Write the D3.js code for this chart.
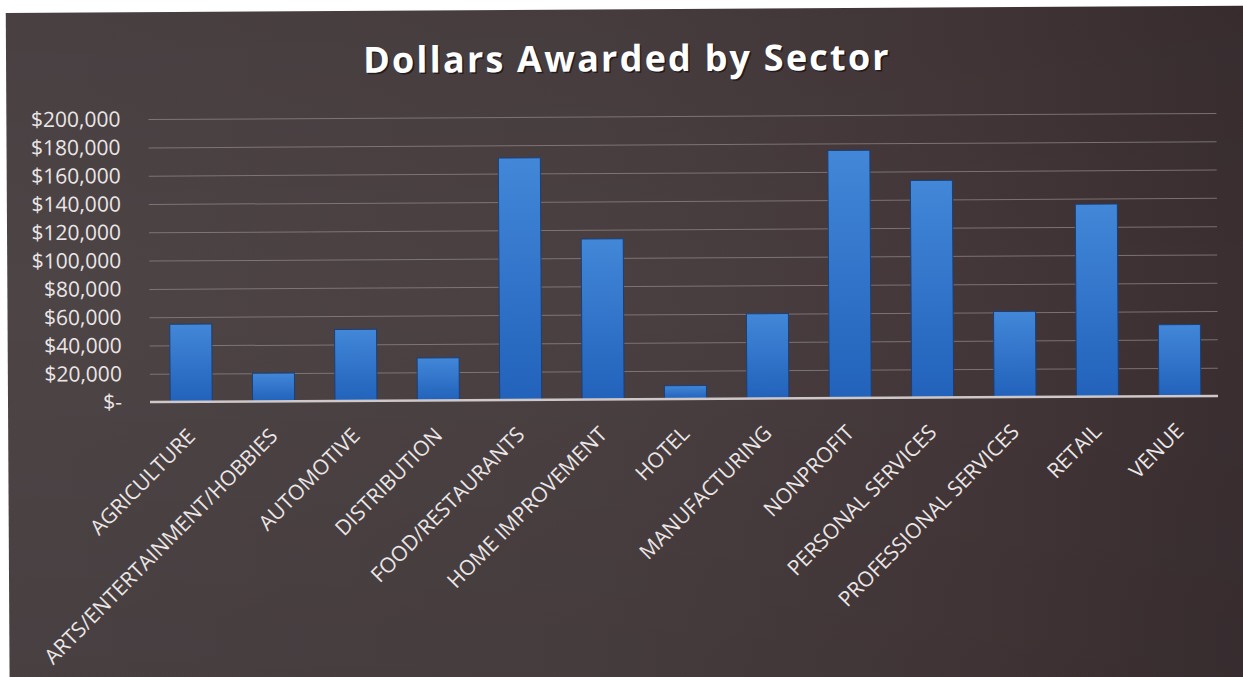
<!DOCTYPE html>
<html>
<head>
<meta charset="utf-8">
<script src="https://cdn.jsdelivr.net/npm/d3@7"></script>
<style>
  html, body { margin: 0; padding: 0; background: #ffffff; overflow: hidden; }
  svg { display: block; }
</style>
</head>
<body>
<svg id="chart" width="1243" height="677"></svg>
<script>
// ---- data ----
const categories = [
  "AGRICULTURE", "ARTS/ENTERTAINMENT/HOBBIES", "AUTOMOTIVE", "DISTRIBUTION",
  "FOOD/RESTAURANTS", "HOME IMPROVEMENT", "HOTEL", "MANUFACTURING",
  "NONPROFIT", "PERSONAL SERVICES", "PROFESSIONAL SERVICES", "RETAIL", "VENUE"
];
const dollarsAwarded = [
  55000, 20000, 50500, 30000, 171000, 113500, 9500, 60000,
  175000, 153500, 60500, 136000, 50500
];
const yTickValues = [0, 20000, 40000, 60000, 80000, 100000, 120000, 140000, 160000, 180000, 200000];
const yTickLabels = ["$-", "$20,000", "$40,000", "$60,000", "$80,000", "$100,000", "$120,000", "$140,000", "$160,000", "$180,000", "$200,000"];
const chartTitle = "Dollars Awarded by Sector";

// ---- layout ----
const W = 1243, H = 677;
const svg = d3.select("#chart");
const defs = svg.append("defs");

const bgGrad = defs.append("linearGradient").attr("id", "bgGrad")
  .attr("x1", "0").attr("y1", "0").attr("x2", "1").attr("y2", "0");
bgGrad.append("stop").attr("offset", "0%").attr("stop-color", "#4d4446");
bgGrad.append("stop").attr("offset", "45%").attr("stop-color", "#4a4042");
bgGrad.append("stop").attr("offset", "75%").attr("stop-color", "#443739");
bgGrad.append("stop").attr("offset", "100%").attr("stop-color", "#392d30");

const bgShade = defs.append("linearGradient").attr("id", "bgShade")
  .attr("x1", "0").attr("y1", "0").attr("x2", "0").attr("y2", "1");
bgShade.append("stop").attr("offset", "0%").attr("stop-color", "#000").attr("stop-opacity", 0.06);
bgShade.append("stop").attr("offset", "40%").attr("stop-color", "#000").attr("stop-opacity", 0);
bgShade.append("stop").attr("offset", "100%").attr("stop-color", "#000").attr("stop-opacity", 0.08);

const barGrad = defs.append("linearGradient").attr("id", "barGrad")
  .attr("x1", "0").attr("y1", "0").attr("x2", "0").attr("y2", "1");
barGrad.append("stop").attr("offset", "0%").attr("stop-color", "#4287d8");
barGrad.append("stop").attr("offset", "100%").attr("stop-color", "#2262bb");

// whole scanned sheet is slightly tilted
const g = svg.append("g").attr("transform", "rotate(-0.33, 685, 399)");

g.append("rect").attr("x", 8).attr("y", 9).attr("width", W + 40).attr("height", H + 40)
  .attr("fill", "url(#bgGrad)");
g.append("rect").attr("x", 8).attr("y", 9).attr("width", W + 40).attr("height", H + 40)
  .attr("fill", "url(#bgShade)");

const x = d3.scaleBand().domain(categories).range([150, 1221])
  .paddingInner(0.49).paddingOuter(0.245);
const y = d3.scaleLinear().domain([0, 200000]).range([399, 116]);

// gridlines
const grid = d3.axisLeft(y).tickValues(yTickValues.slice(1)).tickSize(-(1218 - 150)).tickFormat("");
g.append("g").attr("transform", "translate(150,0)").call(grid)
  .call(s => s.select(".domain").remove())
  .call(s => s.selectAll(".tick line").attr("stroke", "#8f8587").attr("stroke-width", 1).attr("stroke-opacity", 0.75));

// y axis labels
const yAxis = d3.axisLeft(y).tickValues(yTickValues).tickSize(0).tickPadding(0)
  .tickFormat((d, i) => yTickLabels[i]);
g.append("g").attr("transform", "translate(122,0)").call(yAxis)
  .call(s => s.select(".domain").remove())
  .call(s => s.selectAll("text")
    .attr("fill", "#ebe6e6")
    .style("font-family", "'Open Sans', sans-serif")
    .style("font-size", "21px"));

// bars
g.append("g").selectAll("rect").data(categories).join("rect")
  .attr("x", d => x(d))
  .attr("width", x.bandwidth())
  .attr("y", (d, i) => y(dollarsAwarded[i]))
  .attr("height", (d, i) => y(0) - y(dollarsAwarded[i]))
  .attr("fill", "url(#barGrad)")
  .attr("stroke", "#1b3f78")
  .attr("stroke-width", 1);

// baseline axis
const xAxis = d3.axisBottom(x).tickSize(0).tickFormat("");
g.append("g").attr("transform", `translate(0,${y(0)})`).call(xAxis)
  .call(s => s.select(".domain").attr("stroke", "#cfc8c8").attr("stroke-width", 2.5)
    .attr("d", "M150,0H1218"));

// x labels
g.append("g").selectAll("text").data(categories).join("text")
  .attr("transform", d => `translate(${x(d) + x.bandwidth() / 2 + 5},${y(0) + 36}) rotate(-45)`)
  .attr("text-anchor", "end")
  .attr("fill", "#ebe6e6")
  .style("font-family", "'Open Sans', sans-serif")
  .style("font-size", "21px")
  .text(d => d);

// title with shadow
const titleG = g.append("g");
const titleStyle = s => s.attr("text-anchor", "middle")
  .style("font-family", "'Open Sans', sans-serif").style("font-weight", "700")
  .style("font-size", "36px").style("letter-spacing", "2.2px");
titleG.append("text").attr("x", 630.5).attr("y", 72.5)
  .attr("fill", "#1a1416").attr("fill-opacity", 0.8).call(titleStyle).text(chartTitle);
titleG.append("text").attr("x", 629).attr("y", 71)
  .attr("fill", "#ffffff").call(titleStyle).text(chartTitle);
</script>
</body>
</html>
